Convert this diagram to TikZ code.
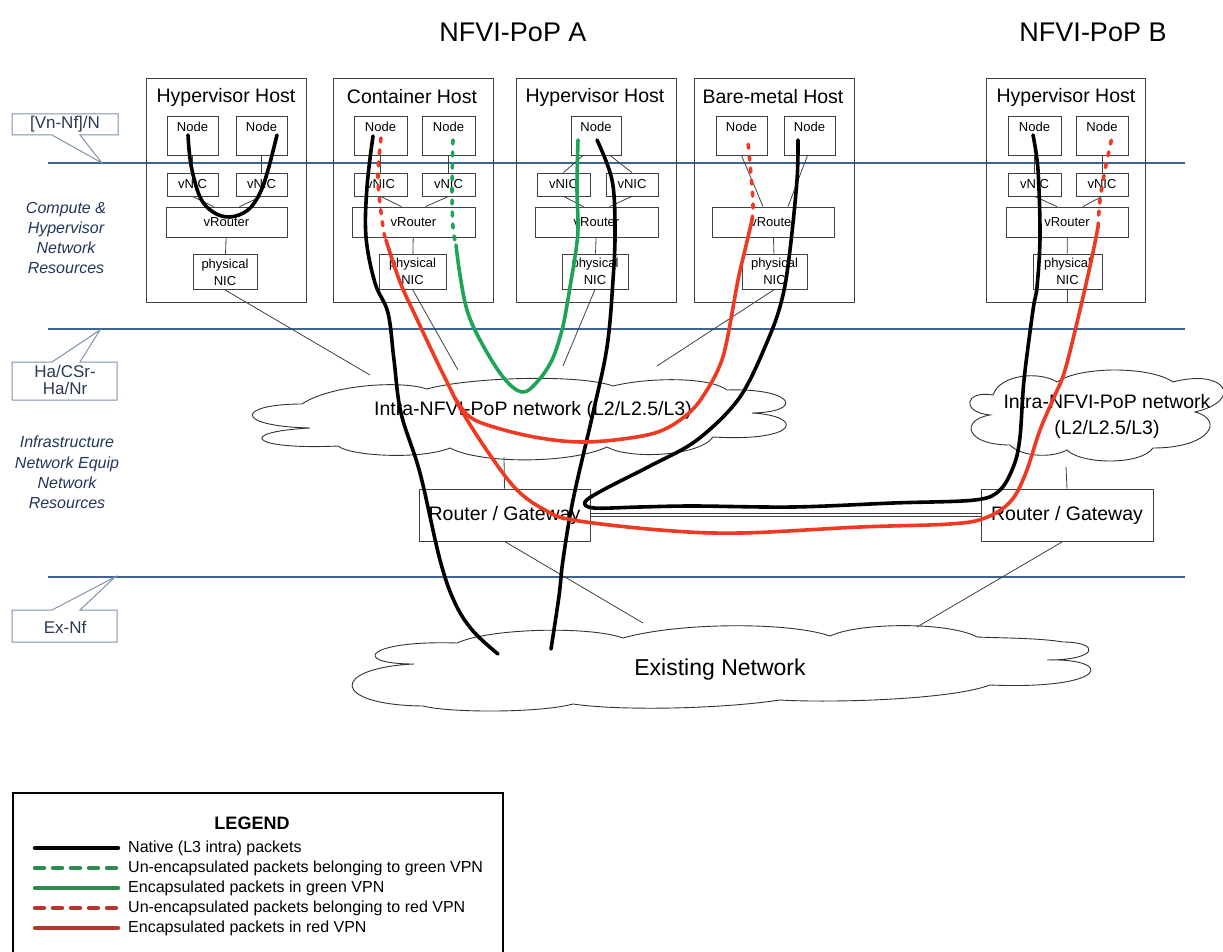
\documentclass[tikz,border=0pt]{standalone}
\usepackage{fontspec}
\setmainfont{Liberation Sans}
\newcommand\fsz[2]{\fontsize{#1}{#2}\selectfont}
\definecolor{layerblue}{HTML}{3E6494}
\definecolor{callc}{HTML}{7F93AD}
\definecolor{calltext}{HTML}{2A3A55}
\definecolor{lblue}{HTML}{22355A}
\definecolor{fred}{HTML}{EE3A22}
\definecolor{fgreen}{HTML}{1EA457}
\definecolor{lgred}{HTML}{B3392F}
\definecolor{lggreen}{HTML}{2E8B50}
\begin{document}
\begin{tikzpicture}[x=1pt,y=-1pt,
  ln/.style={draw=black!75, line width=0.8pt},
  bx/.style={draw=black!75, line width=0.8pt, inner sep=0pt},
  hostbox/.style={bx, minimum width=160pt, minimum height=224pt},
  nodebox/.style={bx, minimum height=39pt, label={[font=\fsz{13}{16}, anchor=north, inner sep=0pt, yshift=-6pt]north:Node}},
  vnic/.style={bx, minimum height=23pt, font=\fsz{13}{16}},
  vrout/.style={bx, minimum height=30pt, font=\fsz{13}{16}},
  pnic/.style={bx, minimum height=35pt, font=\fsz{13}{17}, align=center},
  htitle/.style={font=\fsz{19.5}{23}},
  router/.style={bx, minimum width=171pt, minimum height=52pt, font=\fsz{19.5}{23}},
  layer/.style={draw=layerblue, line width=1.6pt},
  callout/.style={draw=callc, line width=1pt, fill=white},
  calltxt/.style={font=\fsz{17}{17}, text=calltext, align=center},
  side/.style={font=\fsz{16}{20.3}\itshape, text=lblue, align=center},
  cloudln/.style={draw=black!80, line width=0.9pt, fill=white},
  fK/.style={line width=3.6pt, draw=black, line cap=round, line join=round},
  fR/.style={line width=3.6pt, draw=fred, line cap=round, line join=round},
  fG/.style={line width=3.6pt, draw=fgreen, line cap=round, line join=round},
  dsh/.style={line cap=round, dash pattern=on 4pt off 8pt},
  lgl/.style={line width=4.5pt, line cap=round},
  lgdsh/.style={dash pattern=on 9pt off 9pt},
  lgtxt/.style={font=\fsz{16}{19}, anchor=west, inner sep=0pt}
]
\useasboundingbox (0,0) rectangle (1223,952);
\fill[white] (0,0) rectangle (1223,952);

% titles
\node[font=\fsz{27}{32}] (tA) at (513,32) {NFVI-PoP A};
\node[font=\fsz{27}{32}] (tB) at (1093,32) {NFVI-PoP B};

% layer lines
\draw[layer] (48,163) -- (1185,163);
\draw[layer] (48,329) -- (1185,329);
\draw[layer] (48,577) -- (1185,577);

% callouts
\draw[callout] (12,114) -- (118,114) -- (118,135) -- (80,135) -- (102,163) -- (52,135) -- (12,135) -- cycle;
\node[calltxt] (lb1) at (65,124.5) {[Vn-Nf]/N};
\draw[callout] (12,362) -- (52,362) -- (100,330) -- (80,362) -- (117,362) -- (117,400) -- (12,400) -- cycle;
\node[calltxt] (lb2) at (65,380) {Ha/CSr-\\Ha/Nr};
\draw[callout] (12,610) -- (52,610) -- (115,577) -- (80,610) -- (117,610) -- (117,642) -- (12,642) -- cycle;
\node[calltxt] (lb3) at (65,627) {Ex-Nf};

\node[side] (sd1) at (66,238) {Compute \&\\Hypervisor\\Network\\Resources};
\node[side] (sd2) at (67,472.5) {Infrastructure\\Network Equip\\Network\\Resources};

% ---------- Host 1 : Hypervisor Host
\node[hostbox] (h1) at (226,190) {};
\node[htitle] (h1t) at (226,97) {Hypervisor Host};
\node[nodebox, minimum width=51pt] (n11) at (192.5,135.5) {};
\node[nodebox, minimum width=51pt] (n12) at (261.5,135.5) {};
\node[vnic, minimum width=51pt] (v11) at (192.5,184.5) {vNIC};
\node[vnic, minimum width=51pt] (v12) at (261.5,184.5) {vNIC};
\node[vrout, minimum width=121pt] (r1) at (226.5,222) {vRouter};
\node[pnic, minimum width=64pt] (p1) at (225,272) {physical\\NIC};
\draw[ln] (n11) -- (v11);
\draw[ln] (n12) -- (v12);
\draw[ln] (v11.south) -- ([xshift=-13pt]r1.north);
\draw[ln] (v12.south) -- ([xshift=13pt]r1.north);
\draw[ln] (r1) -- (p1);

% ---------- Host 2 : Container Host
\node[hostbox] (h2) at (413,190) {};
\node[htitle] (h2t) at (412,97) {Container Host};
\node[nodebox, minimum width=53pt] (n21) at (380.5,135.5) {};
\node[nodebox, minimum width=53pt] (n22) at (448.5,135.5) {};
\node[vnic, minimum width=53pt] (v21) at (380.5,184.5) {vNIC};
\node[vnic, minimum width=53pt] (v22) at (448.5,184.5) {vNIC};
\node[vrout, minimum width=123pt] (r2) at (413.5,222) {vRouter};
\node[pnic, minimum width=67pt] (p2) at (412.5,271.5) {physical\\NIC};
\draw[ln] (n21) -- (v21);
\draw[ln] (n22) -- (v22);
\draw[ln] (v21.south) -- ([xshift=-12pt]r2.north);
\draw[ln] (v22.south) -- ([xshift=12pt]r2.north);
\draw[ln] (r2) -- (p2);

% ---------- Host 3 : Hypervisor Host
\node[hostbox] (h3) at (596,190) {};
\node[htitle] (h3t) at (595,97) {Hypervisor Host};
\node[nodebox, minimum width=50pt] (n3) at (596,135.5) {};
\node[vnic, minimum width=53pt] (v31) at (563.5,184.5) {vNIC};
\node[vnic, minimum width=52pt] (v32) at (632,184.5) {vNIC};
\node[vrout, minimum width=123pt] (r3) at (596.5,222) {vRouter};
\node[pnic, minimum width=66pt] (p3) at (595,271.5) {physical\\NIC};
\draw[ln] ([xshift=-13pt]n3.south) -- (v31.north);
\draw[ln] ([xshift=14pt]n3.south) -- (v32.north);
\draw[ln] (v31.south) -- ([xshift=-13pt]r3.north);
\draw[ln] (v32.south) -- ([xshift=13pt]r3.north);
\draw[ln] (r3) -- (p3);

% ---------- Host 4 : Bare-metal Host
\node[hostbox] (h4) at (774,190) {};
\node[htitle] (h4t) at (773,97) {Bare-metal Host};
\node[nodebox, minimum width=51pt] (n41) at (741.5,135.5) {};
\node[nodebox, minimum width=51pt] (n42) at (809.5,135.5) {};
\node[vrout, minimum width=122pt] (r4) at (773,222) {vRouter};
\node[pnic, minimum width=65pt] (p4) at (774.5,271.5) {physical\\NIC};
\draw[ln] (n41.south) -- ([xshift=-10pt]r4.north);
\draw[ln] ([xshift=-2pt]n42.south) -- ([xshift=15pt]r4.north);
\draw[ln] (r4) -- (p4);

% ---------- Host 5 : Hypervisor Host (PoP B)
\node[hostbox, minimum width=159pt] (h5) at (1065.5,190) {};
\node[htitle] (h5t) at (1066,97) {Hypervisor Host};
\node[nodebox, minimum width=53pt] (n51) at (1034.5,135.5) {};
\node[nodebox, minimum width=52pt] (n52) at (1102,135.5) {};
\node[vnic, minimum width=53pt] (v51) at (1034.5,184.5) {vNIC};
\node[vnic, minimum width=52pt] (v52) at (1102,184.5) {vNIC};
\node[vrout, minimum width=122pt] (r5) at (1067,222) {vRouter};
\node[pnic, minimum width=69pt] (p5) at (1067.5,271.5) {physical\\NIC};
\draw[ln] (n51) -- (v51);
\draw[ln] (n52) -- (v52);
\draw[ln] (v51.south) -- ([xshift=-10pt]r5.north);
\draw[ln] (v52.south) -- ([xshift=16pt]r5.north);
\draw[ln] (r5) -- (p5);
\coordinate (h5b) at (p5.south |- h5.south);
\draw[ln] (p5.south) -- (h5b);

% ---------- Cloud A
\draw[cloudln] (302,404)
  .. controls (330,385) and (400,380) .. (427,389)
  .. controls (470,377) and (580,374) .. (613,386)
  .. controls (650,377) and (710,377) .. (727,390)
  .. controls (795,388) and (805,412) .. (752,413)
  .. controls (805,416) and (800,442) .. (713,437)
  .. controls (700,456) and (630,460) .. (607,447)
  .. controls (570,464) and (480,464) .. (450,448)
  .. controls (420,460) and (350,456) .. (338,446)
  .. controls (250,450) and (235,432) .. (310,428)
  .. controls (232,426) and (237,404) .. (302,404) -- cycle;
\node[font=\fsz{19.5}{23}] (cAt) at (533,410) {Intra-NFVI-PoP network (L2/L2.5/L3)};
\coordinate (cA1) at (370,375);
\coordinate (cA2) at (458,370);
\coordinate (cA3) at (563,366);
\coordinate (cA4) at (657,366);
\coordinate (cAb) at (504,457);
\draw[ln] (p1.south) -- (cA1);
\draw[ln] (p2.south) -- (cA2);
\draw[ln] (p3.south) -- (cA3);
\draw[ln] (p4.south) -- (cA4);

% ---------- Cloud B
\draw[cloudln] (993,395)
  .. controls (1000,374) and (1040,371) .. (1057,382)
  .. controls (1080,366) and (1150,366) .. (1173,382)
  .. controls (1225,368) and (1245,400) .. (1195,412)
  .. controls (1225,420) and (1210,448) .. (1153,448)
  .. controls (1140,466) and (1080,464) .. (1067,450)
  .. controls (1050,459) and (1020,456) .. (1010,445)
  .. controls (965,445) and (960,420) .. (990,415)
  .. controls (960,412) and (965,390) .. (993,395) -- cycle;
\node[font=\fsz{19.5}{26}, align=center] (cBt) at (1107,416) {Intra-NFVI-PoP network\\(L2/L2.5/L3)};
\coordinate (cBb) at (1066,467);

% ---------- Existing network cloud
\draw[cloudln] (457,643)
  .. controls (490,628) and (590,626) .. (623,638)
  .. controls (680,622) and (790,622) .. (830,636)
  .. controls (860,622) and (950,622) .. (977,637)
  .. controls (1000,638) and (1040,638) .. (1063,642)
  .. controls (1100,642) and (1100,660) .. (1047,660)
  .. controls (1115,658) and (1110,690) .. (990,685)
  .. controls (950,700) and (830,703) .. (780,700)
  .. controls (720,709) and (620,711) .. (573,704)
  .. controls (540,713) and (450,713) .. (423,706)
  .. controls (330,705) and (330,668) .. (414,664)
  .. controls (350,664) and (365,640) .. (457,643) -- cycle;
\node[font=\fsz{23}{27}] (ent) at (720,670) {Existing Network};
\coordinate (en1) at (643,623);
\coordinate (en2) at (917,627);

% ---------- Routers
\node[router] (RA) at (504.5,515) {Router / Gateway};
\node[router, minimum width=172pt] (RB) at (1067,515) {Router / Gateway};
\draw[ln] (cAb) -- (RA.north);
\draw[ln] (cBb) -- (RB.north);
\draw[ln] ([yshift=1.5pt]RA.east) -- ([yshift=1.5pt]RB.west);
\draw[ln] ([yshift=-1.5pt]RA.east) -- ([yshift=-1.5pt]RB.west);
\draw[ln] (RA.south) -- (en1);
\draw[ln] ([xshift=-4pt]RB.south) -- (en2);

% ---------- Flows
% host 1 native U
\draw[fK] plot[smooth, tension=.6] coordinates {(188,135) (191,165) (200,197) (213,212) (230,217) (248,210) (260,193) (268,170) (277,135)};
% container black down to existing network
\draw[fK] plot[smooth, tension=.6] coordinates {(373,136) (367,187) (366,237) (375,283) (388,313) (394,360) (401,413) (420,473) (440,560) (455,603) (473,631) (498,654)};
% host 3 black down to existing network
\draw[fK] plot[smooth, tension=.6] coordinates {(597,140) (612,180) (615,230) (613,280) (607,347) (593,413) (573,500) (563,560) (559,596) (551,649)};
% bare-metal node 2 to PoP B node 1
\draw[fK] plot[smooth, tension=.55] coordinates {(798,140) (797,180) (790,250) (783,295) (770,335) (740,397) (697,440) (650,466) (603,490) (585,502) (594,508) (640,507) (693,506) (793,507) (893,503) (975,500) (1000,490) (1014,465) (1020,437) (1024,380) (1033,310) (1037,287) (1040,237) (1038,170) (1033,135)};

% green VPN
\draw[fG, dsh] plot[smooth, tension=.6] coordinates {(453,140) (452,187) (453,227) (456,245)};
\draw[fG] plot[smooth, tension=.6] coordinates {(456,245) (460,275) (467,310) (480,340) (503,377) (522,392) (537,382) (552,360) (562,330) (567,305) (570,287) (576,250) (578,227) (577,187) (578,140)};

% red VPN
\draw[fR, dsh] plot[smooth, tension=.6] coordinates {(381,138) (378,180) (383,227) (386,240)};
\draw[fR] plot[smooth, tension=.6] coordinates {(386,240) (393,262) (402,287) (415,315) (430,347) (446,380) (463,413) (490,455) (517,490) (545,510) (573,520) (660,530) (740,533) (860,527) (950,524) (985,518) (1010,502) (1025,475) (1040,430) (1055,395) (1065,370) (1080,310) (1092,257) (1098,227)};
\draw[fR, dsh] plot[smooth, tension=.6] coordinates {(1098,227) (1100,200) (1105,170) (1112,137)};
\draw[fR] plot[smooth, tension=.6] coordinates {(455,398) (470,417) (497,428) (540,438) (583,442) (630,438) (663,430) (690,412) (707,390) (720,365) (727,340) (738,280) (745,250) (752,220)};
\draw[fR, dsh] plot[smooth, tension=.6] coordinates {(752,220) (753,203) (751,175) (748,142)};

% ---------- Legend
\draw[draw=black, line width=1.6pt] (13,953) -- (13,793) -- (503,793) -- (503,953);
\node[font=\fsz{18}{21}\bfseries] (lgt) at (252,823) {LEGEND};
\coordinate (la1) at (35,848); \coordinate (lb1e) at (118,848);
\coordinate (la2) at (35,868); \coordinate (lb2e) at (118,868);
\coordinate (la3) at (35,888); \coordinate (lb3e) at (118,888);
\coordinate (la4) at (35,908); \coordinate (lb4e) at (118,908);
\coordinate (la5) at (35,928); \coordinate (lb5e) at (118,928);
\draw[lgl, black] (la1) -- (lb1e);
\draw[lgl, lggreen, lgdsh] (la2) -- (lb2e);
\draw[lgl, lggreen] (la3) -- (lb3e);
\draw[lgl, lgred, lgdsh] (la4) -- (lb4e);
\draw[lgl, lgred] (la5) -- (lb5e);
\node[lgtxt] (lg1) at (128,848) {Native (L3 intra) packets};
\node[lgtxt] (lg2) at (128,868) {Un-encapsulated packets belonging to green VPN};
\node[lgtxt] (lg3) at (128,888) {Encapsulated packets in green VPN};
\node[lgtxt] (lg4) at (128,908) {Un-encapsulated packets belonging to red VPN};
\node[lgtxt] (lg5) at (128,928) {Encapsulated packets in red VPN};
\end{tikzpicture}
\end{document}
